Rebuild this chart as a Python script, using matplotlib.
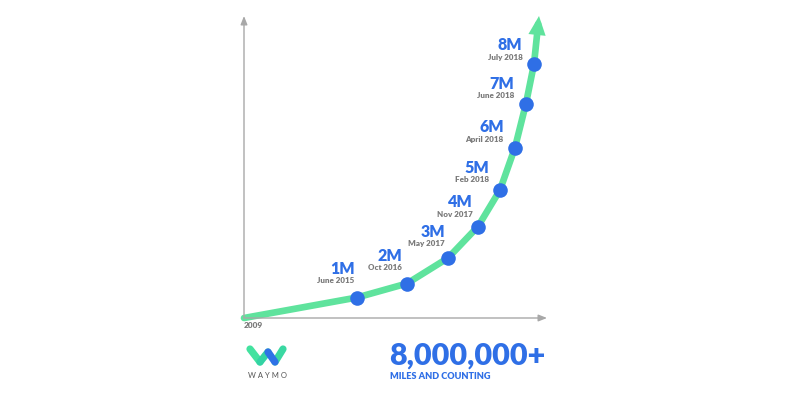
import numpy as np
import matplotlib
matplotlib.use("Agg")
import matplotlib.pyplot as plt

plt.rcParams['font.family'] = ['Lato', 'DejaVu Sans']

# schematic curve (chart units, 0..300 on both axes)
milestones = ["1M", "2M", "3M", "4M", "5M", "6M", "7M", "8M"]
dates = ["June 2015", "Oct 2016", "May 2017", "Nov 2017",
         "Feb 2018", "April 2018", "June 2018", "July 2018"]
curve_x = [113, 163, 204, 234, 256, 271, 282, 290]
curve_y = [20.5, 34.5, 60, 91.5, 128, 170.5, 214.5, 254]
start_label = "2009"
total_label = "8,000,000+"
total_sub = "MILES AND COUNTING"

GREEN = '#5fe39d'
BLUE = '#2f6fe6'
GRAY = '#7a7a7a'
AXIS = '#a8a8a8'

fig = plt.figure(figsize=(8, 4), dpi=100)
ax = fig.add_axes([244 / 800, 82 / 400, 300 / 800, 300 / 400])
ax.set_xlim(0, 300)
ax.set_ylim(0, 300)
ax.axis('off')

# axes with small arrowheads
ax.annotate('', xy=(0, 302), xytext=(0, 0), annotation_clip=False,
            arrowprops=dict(arrowstyle='-|>,head_length=0.5,head_width=0.2',
                            color=AXIS, lw=1, shrinkA=0, shrinkB=0))
ax.annotate('', xy=(303, 0), xytext=(0, 0), annotation_clip=False,
            arrowprops=dict(arrowstyle='-|>,head_length=0.5,head_width=0.2',
                            color=AXIS, lw=1, shrinkA=0, shrinkB=0))

xs = [0] + curve_x
ys = [0] + curve_y
ax.plot(xs, ys, color=GREEN, lw=4.8, solid_capstyle='round',
        solid_joinstyle='round', clip_on=False, zorder=2)
# arrow continuing past the last milestone
ax.annotate('', xy=(curve_x[-1] + 5, 302), xytext=(curve_x[-1], curve_y[-1]),
            annotation_clip=False,
            arrowprops=dict(arrowstyle='-|>,head_length=0.55,head_width=0.25',
                            color=GREEN, lw=4.8, shrinkA=0, shrinkB=0,
                            joinstyle='miter'))

ax.plot(curve_x, curve_y, 'o', color=BLUE, ms=10.5, mec='none',
        clip_on=False, zorder=3)

# labels sit on the upper-left side of the curve
px = xs + [curve_x[-1] + 5]
py = ys + [302]
for i, (m, d) in enumerate(zip(milestones, dates)):
    dx = px[i + 2] - px[i]
    dy = py[i + 2] - py[i]
    n = np.hypot(dx, dy)
    ox, oy = -dy / n * 8.5, dx / n * 8.5 + 1.8
    if 0.5 < dy / n < 0.85:
        ox += 3
    x, y = curve_x[i], curve_y[i]
    ax.annotate(d, (x, y), xytext=(ox, oy), textcoords='offset points',
                ha='right', va='baseline', fontsize=5.8, fontweight='heavy',
                color=GRAY)
    ax.annotate(m, (x, y), xytext=(ox, oy + 6.8), textcoords='offset points',
                ha='right', va='baseline', fontsize=11.5, fontweight='heavy',
                color=BLUE)

ax.text(0, -10, start_label, ha='left', va='baseline', fontsize=6,
        fontweight='heavy', color=GRAY)

# headline numbers
fig.text(389 / 800, 1 - 365 / 400, total_label, ha='left', va='baseline',
         fontsize=22, fontweight='heavy', color=BLUE)
fig.text(390 / 800, 1 - 379 / 400, total_sub, ha='left', va='baseline',
         fontsize=6.6, fontweight='heavy', color=BLUE)

# waymo logo
lg = fig.add_axes([245 / 800, 32 / 400, 44 / 800, 24 / 400])
lg.set_xlim(0, 44)
lg.set_ylim(0, 24)
lg.axis('off')
lw = 5.2
lg.plot([5, 15], [19, 6], color='#43e29f', lw=lw, solid_capstyle='round', clip_on=False)
lg.plot([15, 23], [6, 16], color='#33d3a4', lw=lw, solid_capstyle='round', clip_on=False)
lg.plot([30, 38], [6, 19], color='#3ad8a2', lw=lw, solid_capstyle='round', clip_on=False)
lg.plot([23, 30], [16, 6], color='#2f72e6', lw=lw, solid_capstyle='round', clip_on=False)
fig.text(267 / 800, 1 - 378 / 400, "W A Y M O", ha='center', va='baseline',
         fontsize=5.5, color='#555555')

fig.savefig('out.png', dpi=100, facecolor='white')
